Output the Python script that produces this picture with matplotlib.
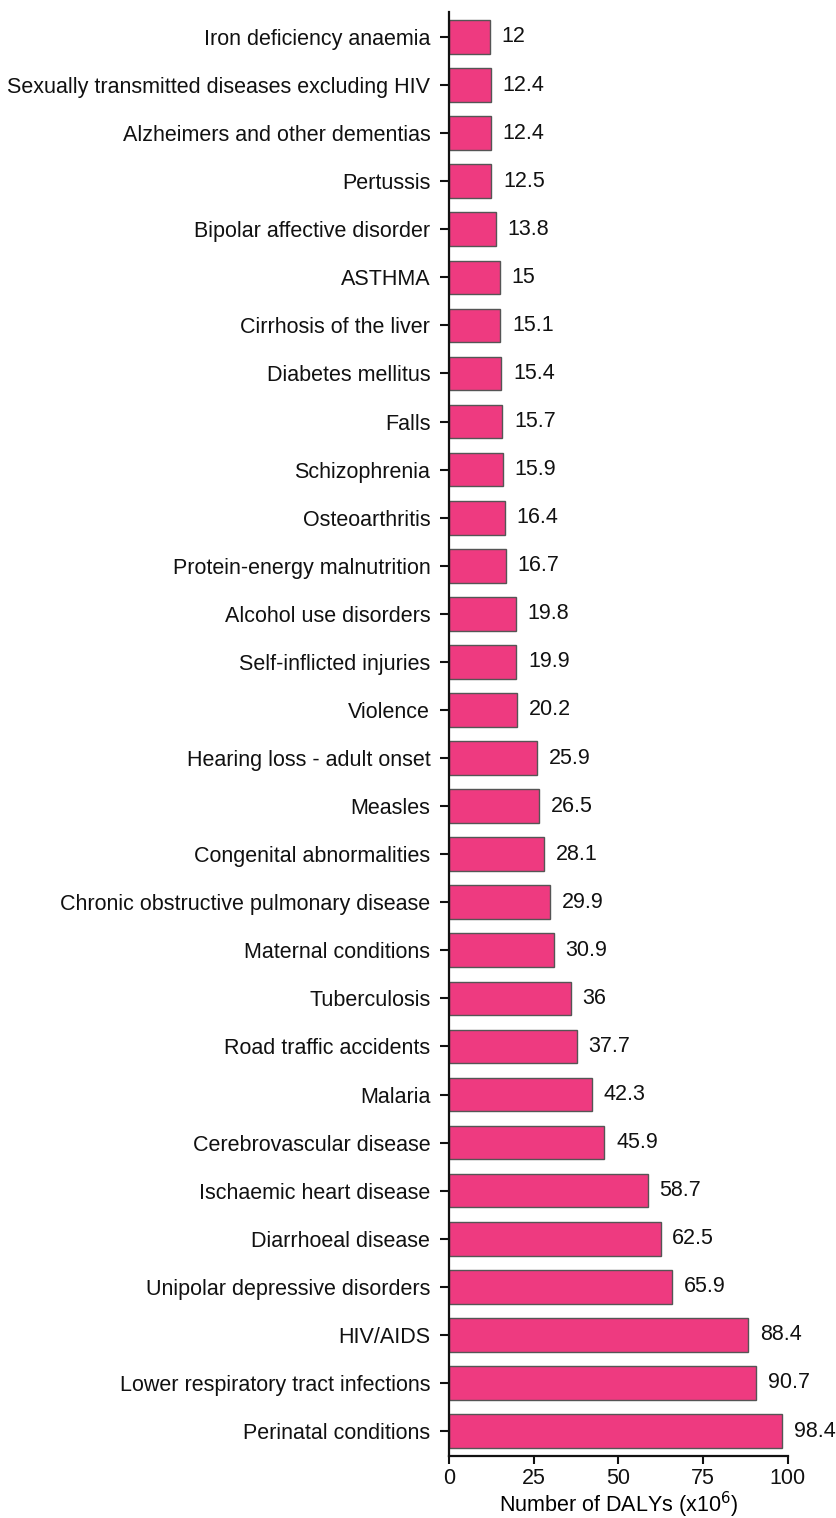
import matplotlib
matplotlib.use("Agg")
import matplotlib.pyplot as plt

plt.rcParams['font.family'] = ['Liberation Sans', 'DejaVu Sans']

# Disease burden, listed from the bottom bar upward
causes = [
    "Perinatal conditions",
    "Lower respiratory tract infections",
    "HIV/AIDS",
    "Unipolar depressive disorders",
    "Diarrhoeal disease",
    "Ischaemic heart disease",
    "Cerebrovascular disease",
    "Malaria",
    "Road traffic accidents",
    "Tuberculosis",
    "Maternal conditions",
    "Chronic obstructive pulmonary disease",
    "Congenital abnormalities",
    "Measles",
    "Hearing loss - adult onset",
    "Violence",
    "Self-inflicted injuries",
    "Alcohol use disorders",
    "Protein-energy malnutrition",
    "Osteoarthritis",
    "Schizophrenia",
    "Falls",
    "Diabetes mellitus",
    "Cirrhosis of the liver",
    "ASTHMA",
    "Bipolar affective disorder",
    "Pertussis",
    "Alzheimers and other dementias",
    "Sexually transmitted diseases excluding HIV",
    "Iron deficiency anaemia",
]
dalys = [98.4, 90.7, 88.4, 65.9, 62.5, 58.7, 45.9, 42.3, 37.7, 36,
         30.9, 29.9, 28.1, 26.5, 25.9, 20.2, 19.9, 19.8, 16.7, 16.4,
         15.9, 15.7, 15.4, 15.1, 15, 13.8, 12.5, 12.4, 12.4, 12]
x_ticks = [0, 25, 50, 75, 100]

FS = 15.5

fig = plt.figure(figsize=(8.36, 15.18), dpi=100)
ax = fig.add_axes([449 / 836, 1 - 1456 / 1518, (787.5 - 449) / 836, (1456 - 12) / 1518])

ypos = list(range(len(causes)))
ax.barh(ypos, dalys, height=0.7, color="#EE3A80", edgecolor="#555555", linewidth=1.0)

for y, v in zip(ypos, dalys):
    ax.annotate(f"{v:g}", xy=(v, y), xytext=(8.5, 0), textcoords="offset points",
                va="center", ha="left", fontsize=FS, color="#111111")

ax.set_yticks(ypos)
ax.set_yticklabels(causes, fontsize=FS)
ax.set_xticks(x_ticks)
ax.set_xticklabels([str(t) for t in x_ticks], fontsize=FS)
ax.set_xlim(0, 100)
ax.set_ylim(-0.52, len(causes) - 0.48)
ax.set_xlabel("Number of DALYs (x10$^{6}$)", fontsize=FS, labelpad=0)

for side in ("top", "right"):
    ax.spines[side].set_visible(False)
for side in ("left", "bottom"):
    ax.spines[side].set_linewidth(1.6)
    ax.spines[side].set_color("#111111")
ax.tick_params(axis="y", length=6.5, width=1.5, pad=7, colors="#111111")
ax.tick_params(axis="x", length=6, width=1.5, pad=3, colors="#111111")

fig.savefig("out.png", dpi=100)
